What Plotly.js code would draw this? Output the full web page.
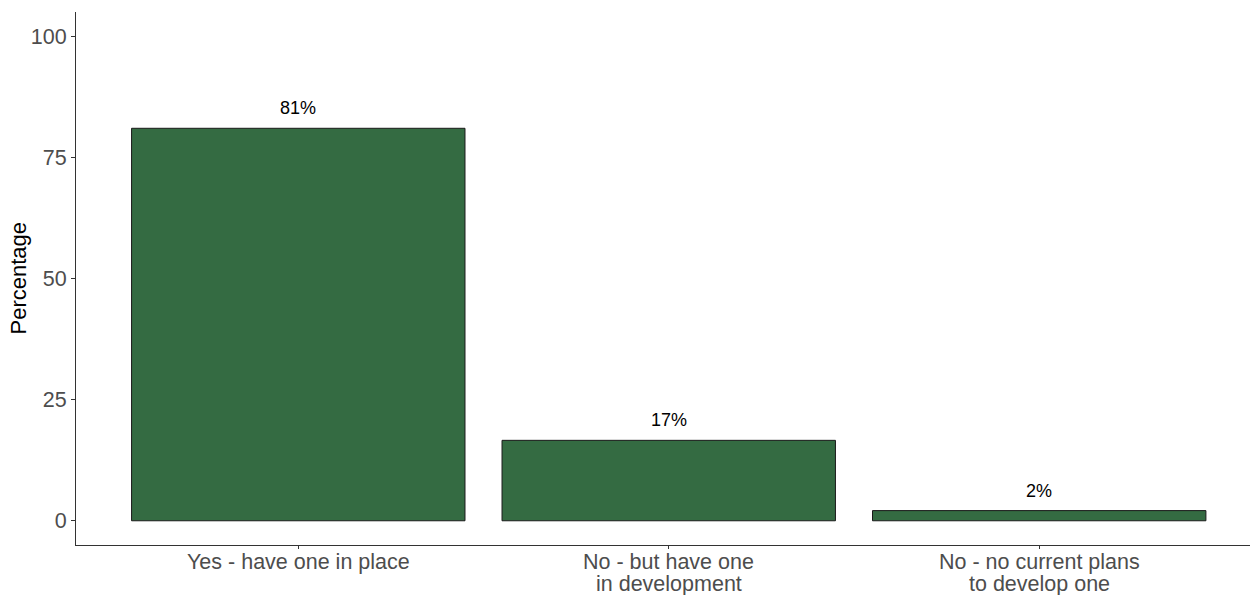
<!DOCTYPE html>
<html>
<head>
<meta charset="utf-8">
<script src="https://cdn.plot.ly/plotly-3.0.1.min.js"></script>
<style>
html, body { margin: 0; padding: 0; background: #fff; }
#chart { width: 1250px; height: 595px; }
</style>
</head>
<body>
<div id="chart"></div>
<script>
const categories = ["Yes - have one in place", "No - but have one\nin development", "No - no current plans\nto develop one"];
const values = [81, 16.6, 2.1];
const valueLabels = ["81%", "17%", "2%"];
const yTicks = [0, 25, 50, 75, 100];
const yTitle = "Percentage";

const FONT = 'Liberation Sans, Arial, sans-serif';

const trace = {
  type: 'bar',
  x: categories,
  y: values,
  width: 0.9,
  marker: { color: '#346B42', line: { color: '#1a1a1a', width: 1 } },
  hoverinfo: 'skip'
};

const annotations = categories.map((c, i) => ({
  x: c, y: values[i], xref: 'x', yref: 'y',
  text: valueLabels[i], showarrow: false, yshift: 20,
  font: { family: FONT, size: 18, color: '#000' }
}));

// category labels, one annotation per line (tight ggplot-like line spacing)
categories.forEach(c => {
  c.split('\n').forEach((line, j) => {
    annotations.push({
      x: c, y: 0, xref: 'x', yref: 'paper',
      yanchor: 'middle', xanchor: 'center',
      text: line, showarrow: false, yshift: -17 - 22 * j,
      font: { family: FONT, size: 21.5, color: '#4D4D4D' }
    });
  });
});

// y axis title
annotations.push({
  x: 0, y: 0.5, xref: 'paper', yref: 'paper',
  xanchor: 'center', yanchor: 'middle', xshift: -58,
  textangle: -90, text: yTitle, showarrow: false,
  font: { family: FONT, size: 22, color: '#000' }
});

const layout = {
  width: 1250, height: 595,
  margin: { l: 76, r: 0, t: 12, b: 50 },
  paper_bgcolor: '#fff', plot_bgcolor: '#fff',
  showlegend: false,
  font: { family: FONT },
  xaxis: {
    type: 'category',
    range: [-0.6, 2.569],
    showgrid: false, zeroline: false,
    showline: true, linecolor: '#333', linewidth: 1,
    ticks: 'outside', ticklen: 3, tickcolor: '#333', tickwidth: 1,
    showticklabels: false
  },
  yaxis: {
    range: [-5, 105],
    tickvals: yTicks,
    ticktext: yTicks.map(String),
    showgrid: false, zeroline: false,
    showline: true, linecolor: '#333', linewidth: 1,
    ticks: 'outside', ticklen: 4, tickcolor: '#333', tickwidth: 1,
    tickfont: { family: FONT, size: 21.5, color: '#4D4D4D' }
  },
  annotations: annotations
};

Plotly.newPlot('chart', [trace], layout, { displayModeBar: false, staticPlot: true });
</script>
</body>
</html>
